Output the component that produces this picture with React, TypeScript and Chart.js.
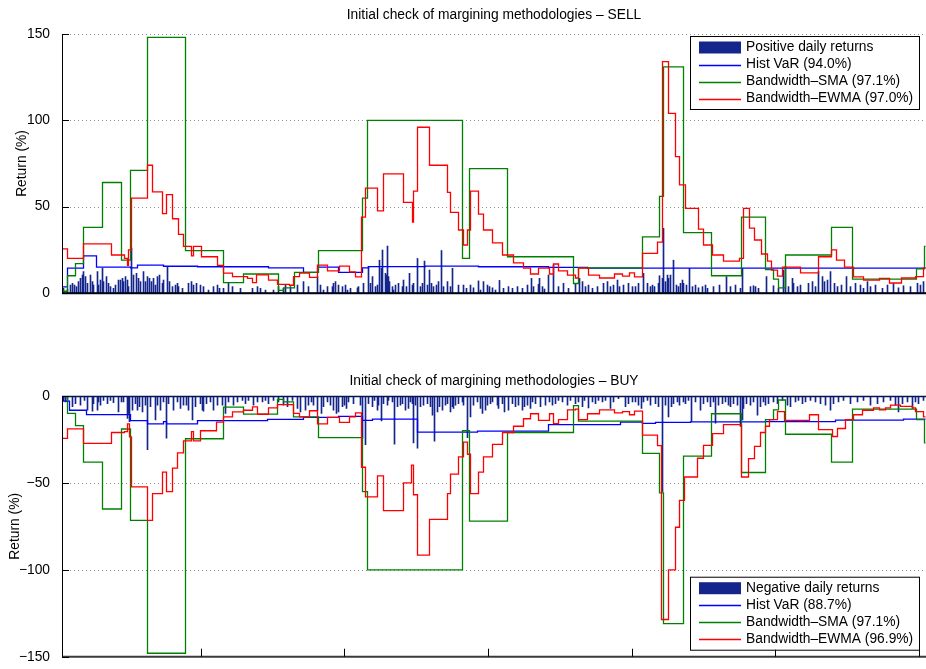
import { useEffect, useRef } from 'react';
import { Chart, registerables } from 'chart.js';

Chart.register(...registerables);

// Trading-day index runs 0..863; each series below is [day, value in %].

// Positive daily returns (SELL side)
const SELL_RETURNS: [number, number][] = [
  [1, 2.7], [5, 2.3], [8, 4.6], [10, 5.6], [12, 4.6], [14, 3.7], [16, 6.6], [18, 8.5], [20, 10.4], [21, 12.4],
  [23, 9.5], [25, 5.6], [28, 10.4], [30, 6.6], [31, 4.6], [35, 12.4], [36, 4.6], [38, 7.5], [40, 14.3], [41, 6.6],
  [44, 9.5], [46, 5.6], [48, 3.7], [51, 2.7], [53, 4.6], [56, 7.5], [58, 7.5], [60, 8.5], [61, 6.6], [63, 9.5],
  [65, 7.5], [66, 3.7], [69, 26], [71, 10.4], [74, 11.4], [76, 8.5], [78, 6.6], [81, 12.4], [83, 6.6], [85, 9.5],
  [87, 8.5], [89, 6.6], [91, 8.5], [93, 4.6], [95, 9.5], [97, 10.4], [100, 5.6], [101, 7.5], [105, 15.3], [107, 6.6],
  [110, 3.7], [113, 4.6], [115, 5.6], [116, 3.7], [120, 2.7], [126, 5.6], [129, 6.6], [131, 4.6], [134, 5.6], [138, 4.6],
  [141, 3.7], [146, 1.7], [151, 3.7], [155, 4.6], [157, 2.7], [161, 2.7], [166, 5.6], [170, 3.7], [178, 2.7], [190, 2.7],
  [195, 3.7], [198, 2.7], [203, 1.7], [211, 1.7], [216, 3.7], [221, 2.7], [223, 4.6], [228, 3.7], [235, 4.6], [241, 6.6],
  [246, 3.7], [255, 9.5], [258, 4.6], [261, 1.7], [265, 3.7], [270, 3.7], [271, 5.6], [273, 6.6], [276, 4.6], [280, 3.7],
  [283, 4.6], [285, 1.7], [288, 2.7], [295, 3], [296, 3.7], [301, 5.6], [306, 15.3], [308, 5.6], [310, 9.5], [313, 3.7],
  [315, 4.6], [317, 19], [319, 14.3], [320, 24.9], [323, 11.4], [324, 10.4], [325, 27.2], [326, 9.5], [327, 6.6], [330, 3.7],
  [331, 1.7], [333, 4.6], [336, 5.6], [340, 3.7], [341, 7.5], [344, 3.7], [347, 11.4], [350, 4.6], [351, 5.6], [355, 20],
  [358, 3.7], [360, 5.6], [362, 18.5], [365, 4.6], [367, 13.3], [369, 5.6], [371, 3.7], [374, 4.6], [376, 6.6], [379, 24.6],
  [381, 3.7], [385, 6.6], [388, 3.7], [390, 14.3], [396, 4.6], [401, 4.6], [404, 2.7], [408, 4.6], [411, 3], [416, 7],
  [418, 1.7], [421, 6.6], [425, 4.6], [427, 3.7], [430, 3], [433, 1.7], [437, 7.3], [441, 2.7], [446, 3.7], [450, 2.7],
  [455, 3.7], [460, 2.7], [465, 4.6], [469, 8.5], [471, 3.7], [476, 5], [477, 8.5], [480, 3.7], [482, 2.3], [486, 10.4],
  [491, 16.2], [496, 3.7], [501, 5.6], [506, 2.7], [513, 5.6], [517, 8.5], [520, 6.6], [523, 3.7], [526, 4.6], [530, 2.7],
  [535, 3.7], [541, 5.6], [545, 6.6], [548, 3.7], [551, 4.6], [555, 7.5], [557, 3.7], [561, 4.6], [566, 5.6], [570, 3.7],
  [573, 3.7], [576, 5.6], [581, 11.4], [585, 5.6], [588, 3.7], [590, 4.6], [592, 3.7], [596, 5.6], [597, 10], [600, 8.5],
  [601, 37.5], [603, 6.6], [605, 10.4], [606, 8.5], [608, 10.4], [611, 19], [614, 4.6], [616, 3.7], [618, 5.6], [620, 7.5],
  [621, 5.6], [624, 4.6], [627, 14.3], [630, 3.7], [633, 4.6], [636, 3], [640, 3.7], [643, 4.6], [645, 2.7], [651, 3.7],
  [657, 4.6], [664, 9.5], [668, 3.7], [673, 4.6], [678, 2.7], [680, 14.3], [688, 3.7], [691, 4.2], [693, 3.7], [696, 2.7],
  [704, 9.5], [711, 4.2], [716, 2.7], [721, 13.3], [723, 15.3], [726, 3.7], [730, 8.5], [731, 5.6], [735, 3.7], [738, 4.6],
  [746, 5.6], [750, 6.6], [753, 3.7], [756, 12.4], [760, 9.5], [762, 6.6], [765, 7.5], [768, 12.4], [772, 5.6], [775, 3.7],
  [779, 4.6], [784, 9.5], [788, 3.7], [793, 5.6], [798, 4.6], [801, 2.7], [805, 6.6], [808, 3.7], [813, 4.6], [820, 2.7],
  [825, 4.6], [831, 5.6], [836, 3], [841, 4.2], [848, 3.7], [855, 5.6], [858, 4.6], [861, 6.6],
];

// Hist VaR, Bandwidth-SMA and Bandwidth-EWMA levels (SELL), as [change day, level]
const SELL_VAR: [number, number][] = [
  [0, 3.5], [5, 14.4], [21, 21.5], [34, 15], [68, 14.5], [75, 16.2], [101, 15.5], [135, 15.2], [206, 14.5], [241, 12],
  [255, 15], [276, 12], [300, 14.5], [306, 15.3], [363, 15.6], [416, 15.2], [486, 14.8], [525, 14.4], [863, 14.4],
];

const SELL_SMA: [number, number][] = [
  [0, 1], [5, 10], [13, 17], [21, 38], [40, 64], [59, 19], [68, 71], [85, 148], [123, 24.5], [161, 6],
  [181, 11], [216, 1.5], [221, 3], [232, 12], [256, 24.5], [300, 55], [305, 100], [400, 20], [407, 72], [445, 21],
  [511, 5.5], [516, 14.5], [580, 32.5], [597, 56], [601, 131], [621, 35], [649, 10], [679, 44], [703, 13.5], [711, 8],
  [716, 3], [723, 22], [769, 38], [790, 8], [854, 14], [862, 27], [863, 27],
];

const SELL_EWMA: [number, number][] = [
  [0, 25.5], [5, 20], [21, 28.5], [49, 22], [62, 20], [65, 16], [66, 25], [69, 55], [85, 74], [90, 58.6],
  [100, 46], [104, 57], [110, 43], [116, 34], [121, 27], [129, 21.5], [131, 27], [139, 21], [155, 16], [161, 11.5],
  [170, 9.5], [185, 8.5], [190, 6], [194, 10.5], [206, 7.5], [215, 5], [227, 4.5], [231, 9.5], [237, 11.5], [247, 9],
  [255, 16.2], [265, 12.8], [277, 15.6], [287, 12.2], [293, 9.3], [299, 44], [303, 60.7], [315, 47.6], [321, 69], [341, 52.5],
  [350, 41], [351, 59], [355, 96], [367, 74], [385, 58.3], [388, 46.7], [396, 36.5], [401, 27.8], [405, 36.5], [408, 59],
  [416, 45.7], [421, 36.5], [430, 29], [440, 22], [451, 17.4], [461, 14.4], [468, 11], [476, 14.4], [487, 11], [491, 16.8],
  [496, 12.8], [505, 10.4], [513, 8.7], [516, 14.4], [526, 10.4], [537, 8.7], [552, 11], [560, 9.8], [567, 11.6], [572, 9.3],
  [580, 23], [595, 29.5], [600, 134], [606, 104], [613, 79], [617, 62.6], [623, 49], [636, 37], [641, 27.8], [650, 22],
  [661, 18.5], [677, 20], [681, 49], [687, 37.6], [692, 30.7], [699, 22.6], [705, 18.5], [709, 13.3], [715, 9.8], [720, 15],
  [738, 11.6], [756, 21], [769, 25], [774, 19], [782, 15], [791, 9.3], [801, 7.5], [817, 8.5], [827, 5.8], [839, 8.7],
  [853, 9.5], [861, 14.5], [863, 14.5],
];

// Negative daily returns (BUY side)
const BUY_RETURNS: [number, number][] = [
  [1, -2.5], [3, -3.4], [5, -3], [10, -6.2], [13, -4.4], [18, -5.3], [22, -2.5], [25, -8.1], [30, -8.7], [31, -4.4],
  [35, -8.1], [36, -3.4], [38, -5.3], [41, -2.5], [45, -4.4], [48, -2.5], [51, -3.8], [56, -9.1], [59, -3.4], [61, -3.4],
  [65, -12.9], [66, -10], [67, -14.8], [70, -8.1], [73, -4.4], [75, -8.1], [77, -6.2], [80, -9.1], [83, -5.3], [85, -30.9],
  [88, -6.2], [93, -13.8], [95, -5.3], [98, -8.1], [101, -3.4], [104, -24.2], [106, -4.4], [111, -8.1], [115, -3.4], [118, -7.2],
  [121, -5.3], [124, -5.3], [126, -8.1], [130, -13.8], [133, -6.2], [138, -4.4], [140, -8.1], [141, -8.7], [144, -4.4], [148, -3.4],
  [151, -8.1], [155, -5.3], [160, -5.3], [163, -10], [166, -3.4], [171, -5.3], [175, -3.4], [180, -2.5], [183, -4.4], [186, -2.5],
  [191, -5.3], [195, -3.4], [200, -3.4], [203, -2.5], [206, -4.4], [211, -2.5], [216, -3.4], [221, -5.3], [225, -6.2], [230, -2.5],
  [235, -7.2], [238, -9.1], [243, -8.1], [246, -5.3], [249, -3.4], [251, -5.3], [255, -8.1], [259, -10], [261, -6.2], [265, -3.4],
  [268, -5.3], [271, -8.1], [274, -10], [276, -9.1], [280, -6.2], [282, -5.3], [284, -7.2], [286, -3.4], [291, -4.4], [298, -5.3],
  [300, -24.2], [303, -28], [306, -4.4], [310, -6.2], [312, -2.5], [315, -8.1], [316, -5.3], [319, -14.3], [321, -4.4], [325, -5.3],
  [326, -2.5], [330, -3.4], [332, -27.7], [335, -6.2], [338, -5.3], [340, -4.4], [343, -8.1], [346, -7.2], [348, -3.4], [350, -4.4],
  [351, -27], [353, -5.3], [355, -30], [358, -6.2], [361, -5.3], [365, -4.4], [368, -6.2], [370, -11], [372, -26], [375, -9.1],
  [377, -6.2], [380, -8.1], [383, -5.3], [385, -4.4], [388, -9.1], [390, -6.2], [391, -7.2], [393, -5.3], [396, -4.4], [400, -3.4],
  [401, -5.3], [405, -24], [408, -12], [411, -5.3], [415, -3.4], [418, -7.2], [420, -10], [423, -8.1], [425, -5.3], [428, -4.4],
  [430, -3.4], [435, -5.3], [436, -7.2], [440, -4.4], [442, -9.1], [446, -8.1], [450, -4.4], [453, -6.2], [456, -5.3], [460, -8.1],
  [462, -6.2], [465, -5.3], [468, -7.2], [470, -3.4], [473, -4.4], [478, -6.2], [483, -5.3], [487, -3.4], [490, -5.3], [493, -4.4],
  [496, -2.5], [500, -3.4], [505, -5.3], [508, -2.5], [513, -4.4], [516, -3.4], [520, -6.2], [522, -2.5], [526, -6.8], [530, -3.4],
  [533, -4.4], [536, -2.5], [540, -3.4], [543, -2.5], [548, -7.2], [551, -3.4], [556, -1.5], [563, -6.2], [566, -4.4], [570, -3.4],
  [573, -3.4], [576, -5.3], [579, -7.2], [581, -3.4], [585, -2.5], [588, -5.3], [593, -4.4], [596, -6.2], [600, -55], [603, -5.3],
  [606, -12], [609, -6.2], [611, -4.4], [615, -3.4], [617, -5.3], [621, -3.4], [623, -4.4], [626, -2.5], [629, -14.8], [633, -3.4],
  [638, -8.1], [641, -4.4], [645, -3.4], [648, -6.2], [651, -3.4], [653, -15.6], [656, -5.3], [660, -4.4], [663, -3.4], [666, -5.3],
  [668, -6.2], [671, -4.4], [675, -5.3], [678, -17.5], [680, -13.8], [681, -7.2], [684, -4.4], [688, -5.3], [691, -3.4], [695, -11],
  [698, -6.2], [701, -3.4], [703, -5.3], [706, -4.4], [711, -3.4], [715, -4.4], [720, -2.5], [725, -5.3], [728, -6.2], [733, -3.4],
  [736, -2.5], [740, -4.4], [743, -3.4], [748, -2.5], [753, -3.4], [758, -4.4], [763, -5.3], [768, -8.1], [771, -4.4], [776, -3.4],
  [781, -2.5], [788, -4.4], [795, -3.4], [801, -2.5], [808, -5.3], [815, -4.4], [821, -3.4], [828, -2.5], [833, -5.3], [836, -9.1],
  [840, -4.4], [845, -3.4], [850, -7.2], [853, -3.4], [856, -4.4], [861, -2.5],
];

// Hist VaR, Bandwidth-SMA and Bandwidth-EWMA levels (BUY), as [change day, level]
const BUY_VAR: [number, number][] = [
  [0, -0.5], [1, -3], [7, -8.2], [24, -10.7], [68, -14.2], [85, -16], [101, -14.8], [104, -16], [135, -14.2], [205, -13.4],
  [241, -12.3], [276, -11.7], [300, -14], [310, -13.3], [355, -20.8], [415, -20.2], [486, -16.5], [558, -15], [580, -15.7], [593, -15.2],
  [628, -14.9], [703, -14.7], [773, -13.9], [841, -13.3], [863, -13.3],
];

const BUY_SMA: [number, number][] = [
  [0, 0], [5, -10], [13, -17], [21, -38], [40, -65], [59, -19], [68, -71.5], [85, -148], [123, -24.6], [161, -6.4],
  [181, -10.4], [215, -1.9], [221, -3.4], [231, -12], [256, -24], [300, -55], [305, -100], [400, -20], [407, -72], [445, -21],
  [511, -5.5], [516, -14.4], [580, -33], [597, -55.7], [601, -131], [621, -34.6], [649, -10.2], [679, -44], [703, -13.6], [711, -8],
  [716, -2.3], [723, -22], [769, -38], [790, -7.5], [854, -13.6], [862, -27], [863, -27],
];

const BUY_EWMA: [number, number][] = [
  [0, -24.4], [5, -18.9], [21, -27.3], [49, -21], [62, -20.5], [65, -16], [67, -23.5], [69, -52.3], [85, -71.6], [90, -56.2],
  [100, -43.8], [104, -55], [110, -41.5], [115, -32.7], [121, -25.8], [129, -20.5], [131, -25.8], [138, -20], [154, -15], [161, -12],
  [170, -9.1], [181, -8.2], [190, -6.3], [195, -10.5], [206, -6.8], [215, -5], [231, -10], [237, -12], [247, -8.5], [255, -16],
  [265, -12.3], [277, -15.2], [287, -12], [293, -9.7], [299, -41], [303, -58], [315, -46], [321, -65.9], [341, -50], [349, -39.8],
  [351, -56.8], [355, -91.5], [367, -71], [385, -56.2], [388, -44.9], [396, -35], [401, -26.5], [405, -33.5], [408, -56.2], [416, -43.8],
  [421, -35], [430, -27.8], [440, -21], [451, -17.4], [461, -13.1], [468, -10.2], [476, -14], [487, -10.2], [491, -15.9], [496, -13.6],
  [505, -8], [513, -7.6], [516, -13.6], [525, -10.2], [537, -8], [552, -9.7], [560, -9], [567, -10.8], [572, -8.7], [580, -22.5],
  [595, -28.5], [599, -128.6], [606, -100], [613, -75.5], [617, -60], [622, -46.6], [635, -35.8], [641, -28.4], [650, -21.6], [661, -16.5],
  [679, -46.6], [686, -36], [692, -29], [698, -21], [703, -17.4], [707, -13.6], [715, -9], [722, -14], [747, -10.8], [756, -19.3],
  [770, -23.3], [775, -18.7], [783, -13.6], [791, -10.8], [800, -8.2], [811, -6.8], [817, -8], [823, -6.8], [828, -5.3], [838, -6],
  [850, -6.8], [853, -9], [861, -12], [863, -12],
];

// Unlabelled major ticks on the lower date axis
const BUY_TICK_DAYS = [138, 281, 425, 569, 712, 856];

const FONT = "'Liberation Sans', Arial, Helvetica, sans-serif";
const FONT_SIZE = 13.8;
const BAR_COLOR = '#14268c';
const VAR_COLOR = '#0000ff';
const SMA_COLOR = '#008000';
const EWMA_COLOR = '#ff0000';
const LAST_DAY = 863;

type Panel = {
  title: string;
  returns: [number, number][];
  hist: [number, number][];
  sma: [number, number][];
  ewma: [number, number][];
  labels: [string, string, string, string];
  yMin: number;
  yMax: number;
  height: number;
  padTop: number;
  padBottom: number;
  titleY: number;
  yTitlePad: number;
  legendAt: 'top' | 'bottom';
  xTicks: number[];
};

const SELL: Panel = {
  title: 'Initial check of margining methodologies \u2013 SELL',
  returns: SELL_RETURNS,
  hist: SELL_VAR,
  sma: SELL_SMA,
  ewma: SELL_EWMA,
  labels: ['Positive daily returns', 'Hist VaR (94.0%)', 'Bandwidth\u2013SMA (97.1%)', 'Bandwidth\u2013EWMA (97.0%)'],
  yMin: 0,
  yMax: 150,
  height: 330,
  padTop: 34,
  padBottom: 37,
  titleY: 15,
  yTitlePad: 13.7,
  legendAt: 'top',
  xTicks: [],
};

const BUY: Panel = {
  title: 'Initial check of margining methodologies \u2013 BUY',
  returns: BUY_RETURNS,
  hist: BUY_VAR,
  sma: BUY_SMA,
  ewma: BUY_EWMA,
  labels: ['Negative daily returns', 'Hist VaR (88.7%)', 'Bandwidth\u2013SMA (97.1%)', 'Bandwidth\u2013EWMA (96.9%)'],
  yMin: -150,
  yMax: 0,
  height: 339,
  padTop: 66,
  padBottom: 9,
  titleY: 51,
  yTitlePad: 6.7,
  legendAt: 'bottom',
  xTicks: BUY_TICK_DAYS,
};

const toPoints = (rows: [number, number][]) => rows.map(([x, y]) => ({ x, y }));

// Axes, dotted grid, inward ticks, title and boxed legend in the MATLAB style
const framePlugin = {
  id: 'frame',
  beforeDatasetsDraw(chart: any) {
    const { ctx, chartArea: a } = chart;
    const y = chart.scales.y;
    ctx.save();
    ctx.strokeStyle = '#8f8f8f';
    ctx.lineWidth = 1;
    ctx.setLineDash([1, 3]);
    for (const t of y.ticks) {
      if (t.value === 0) continue;
      const py = Math.round(y.getPixelForValue(t.value)) + 0.5;
      if (Math.abs(py - a.bottom) < 2) continue;
      ctx.beginPath();
      ctx.moveTo(a.left, py);
      ctx.lineTo(a.right, py);
      ctx.stroke();
    }
    ctx.restore();
  },
  afterDatasetsDraw(chart: any, _args: any, opts: any) {
    const { ctx, chartArea: a } = chart;
    const x = chart.scales.x;
    const y = chart.scales.y;
    ctx.save();
    ctx.setLineDash([]);

    // zero baseline of the bars
    const zero = Math.round(y.getPixelForValue(0)) + 0.5;
    ctx.strokeStyle = '#0a1450';
    ctx.lineWidth = 1.3;
    ctx.beginPath();
    ctx.moveTo(a.left, zero);
    ctx.lineTo(a.right, zero);
    ctx.stroke();

    // x axis line
    ctx.strokeStyle = opts.xTicks.length ? '#3a3a3a' : '#000';
    ctx.lineWidth = opts.xTicks.length ? 2 : 1.3;
    ctx.beginPath();
    ctx.moveTo(a.left, a.bottom);
    ctx.lineTo(a.right, a.bottom);
    ctx.stroke();

    // y axis line and inward ticks
    ctx.strokeStyle = '#000';
    ctx.lineWidth = 1;
    ctx.beginPath();
    ctx.moveTo(a.left + 0.5, a.top);
    ctx.lineTo(a.left + 0.5, a.bottom);
    for (const t of y.ticks) {
      const py = Math.round(y.getPixelForValue(t.value)) + 0.5;
      ctx.moveTo(a.left, py);
      ctx.lineTo(a.left + 7, py);
    }
    for (const d of opts.xTicks) {
      const px = Math.round(x.getPixelForValue(d)) + 0.5;
      ctx.moveTo(px, a.bottom);
      ctx.lineTo(px, a.bottom - 8);
    }
    ctx.stroke();

    // title
    ctx.font = `${FONT_SIZE}px ${FONT}`;
    ctx.fillStyle = '#000';
    ctx.textAlign = 'center';
    ctx.textBaseline = 'middle';
    ctx.fillText(opts.title, (a.left + a.right) / 2, opts.titleY);

    // legend box
    const items = [...chart.data.datasets].sort((p: any, q: any) => q.order - p.order);
    const widest = Math.max(...items.map((d: any) => ctx.measureText(d.label).width));
    const boxW = Math.ceil(56 + widest + 5);
    const boxH = 73;
    const right = a.right - 7;
    const left = right - boxW;
    const top = opts.legendAt === 'top' ? a.top + 2 : a.bottom - 7 - boxH;
    ctx.fillStyle = '#fff';
    ctx.fillRect(left, top, boxW, boxH);
    ctx.strokeStyle = '#000';
    ctx.lineWidth = 1;
    ctx.strokeRect(left + 0.5, top + 0.5, boxW, boxH);
    ctx.textAlign = 'left';
    items.forEach((d: any, i: number) => {
      const cy = top + 11.5 + i * 17;
      if (d.type === 'bar') {
        ctx.fillStyle = d.backgroundColor;
        ctx.fillRect(left + 9, cy - 6, 42, 12);
      } else {
        ctx.strokeStyle = d.borderColor;
        ctx.lineWidth = 1.3;
        ctx.beginPath();
        ctx.moveTo(left + 9, Math.round(cy) + 0.5);
        ctx.lineTo(left + 51, Math.round(cy) + 0.5);
        ctx.stroke();
      }
      ctx.fillStyle = '#000';
      ctx.fillText(d.label, left + 56, cy);
    });
    ctx.restore();
  },
};

function makeChart(canvas: HTMLCanvasElement, p: Panel) {
  const line = (label: string, rows: [number, number][], color: string, order: number) => ({
    type: 'line' as const,
    label,
    data: toPoints(rows),
    borderColor: color,
    backgroundColor: color,
    borderWidth: 1.3,
    // each level holds from its change day until the next one
    stepped: 'before' as const,
    pointRadius: 0,
    fill: false,
    order,
  });
  return new Chart(canvas, {
    type: 'bar',
    data: {
      datasets: [
        line(p.labels[3], p.ewma, EWMA_COLOR, 1),
        line(p.labels[2], p.sma, SMA_COLOR, 2),
        line(p.labels[1], p.hist, VAR_COLOR, 3),
        {
          type: 'bar' as const,
          label: p.labels[0],
          data: toPoints(p.returns),
          backgroundColor: BAR_COLOR,
          barThickness: 1,
          order: 4,
        },
      ] as any,
    },
    options: {
      responsive: false,
      animation: false,
      layout: { padding: { top: p.padTop, bottom: p.padBottom, left: 0, right: 0 } },
      plugins: {
        legend: { display: false },
        tooltip: { enabled: false },
        frame: { title: p.title, titleY: p.titleY, legendAt: p.legendAt, xTicks: p.xTicks },
      } as any,
      scales: {
        x: { type: 'linear', min: -0.5, max: LAST_DAY + 0.5, offset: false, display: false },
        y: {
          min: p.yMin,
          max: p.yMax,
          afterFit: (s: any) => {
            s.width = 62;
          },
          grid: { display: false },
          border: { display: false },
          ticks: {
            stepSize: 50,
            padding: 4,
            color: '#000',
            font: { family: FONT, size: FONT_SIZE },
            callback: (v: any) => (Number(v) < 0 ? '\u2212' + Math.abs(Number(v)) : String(v)),
          },
          title: {
            display: true,
            text: 'Return (%)',
            color: '#000',
            font: { family: FONT, size: FONT_SIZE },
            padding: { top: p.yTitlePad, bottom: 0 },
          },
        },
      },
    },
    plugins: [framePlugin],
  });
}

export default function App() {
  const topRef = useRef<HTMLCanvasElement>(null);
  const bottomRef = useRef<HTMLCanvasElement>(null);

  useEffect(() => {
    const sell = makeChart(topRef.current!, SELL);
    const buy = makeChart(bottomRef.current!, BUY);
    return () => {
      sell.destroy();
      buy.destroy();
    };
  }, []);

  return (
    <div style={{ position: 'absolute', left: 0, top: 0, width: 926, height: 669, background: '#fff' }}>
      <canvas
        ref={topRef}
        width={926}
        height={SELL.height}
        style={{ position: 'absolute', left: 0, top: 0, width: 926, height: SELL.height }}
      />
      <canvas
        ref={bottomRef}
        width={926}
        height={BUY.height}
        style={{ position: 'absolute', left: 0, top: SELL.height, width: 926, height: BUY.height }}
      />
    </div>
  );
}
